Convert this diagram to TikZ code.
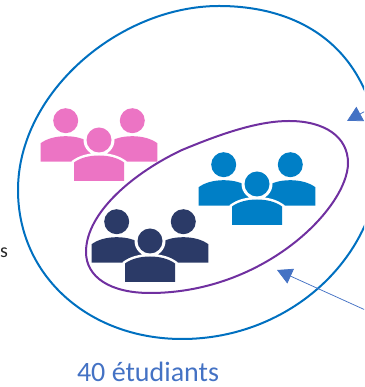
\documentclass[tikz,border=0pt]{standalone}
\usepackage{fontspec}
\setmainfont{Carlito}
\usepackage{tikz}
\usetikzlibrary{positioning,arrows.meta}
\definecolor{ringblue}{HTML}{0070C0}
\definecolor{ringpurple}{HTML}{7030A0}
\definecolor{arrowblue}{HTML}{4472C4}
\definecolor{grouppink}{HTML}{EC74C4}
\definecolor{groupblue}{HTML}{007FC6}
\definecolor{groupnavy}{HTML}{2B3A67}
\definecolor{textgrey}{HTML}{262626}
\newcommand{\bodyshape}{(-25,-41) -- (-25,-22.5) .. controls (-19,-18) and (-10,-15.5) .. (0,-15.5)
	.. controls (10,-15.5) and (19,-18) .. (25,-22.5) -- (25,-41) -- cycle}
\tikzset{
	ring/.style={line width=2pt,fill=none},
	pointer/.style={arrowblue,line width=0.75pt,-{Triangle[length=15pt,width=16pt]}},
	person/.pic={
		\fill \bodyshape;
		\fill (0,0) circle (12.5);
	},
	frontperson/.pic={
		\draw[white,line width=5pt] \bodyshape;
		\fill[fill=white] (0,0) circle (15.5);
		\fill \bodyshape;
		\fill (0,0) circle (12.5);
	},
	group/.pic={
		\pic at (-33.3,19.3) {person};
		\pic at (33.3,19.3) {person};
		\pic at (0,0) {frontperson};
	}
}
\begin{document}
\begin{tikzpicture}[x=1pt,y=1pt]
	\useasboundingbox (0,0) rectangle (364,387);
	\clip (0,0) rectangle (364,387);

	% groups of students
	\pic[fill=grouppink] at (99,247) {group};
	\pic[fill=groupblue] at (257,203) {group};
	\pic[fill=groupnavy] at (150,146) {group};

	% the two rings
	\draw[ring,ringblue] (18,197) .. controls (18,295) and (120,381) .. (219,381)
		.. controls (300,381) and (372,340) .. (380,232)
		.. controls (380,130) and (290,48) .. (182,48)
		.. controls (90,48) and (18,110) .. (18,197) -- cycle;
	\draw[ring,ringpurple] (86,135) .. controls (86,175) and (135,215) .. (182,237)
		.. controls (225,255) and (260,266) .. (289,266)
		.. controls (325,266) and (348,250) .. (348,224)
		.. controls (348,180) and (265,94) .. (150,94)
		.. controls (110,94) and (86,110) .. (86,135) -- cycle;

	% pointers coming from outside the picture
	\coordinate (topstart) at (399,294);
	\coordinate (toptip) at (347,266);
	\coordinate (lowstart) at (394,64);
	\coordinate (lowtip) at (277,117);
	\draw[pointer] (topstart) -- (toptip);
	\draw[pointer] (lowstart) -- (lowtip);

	% texts
	\node[text=arrowblue,font=\fontsize{28}{32}\selectfont,inner sep=0pt] (total) at (148,15.5) {40 étudiants};
	\node[text=textgrey,font=\fontsize{20}{24}\selectfont,inner sep=0pt,anchor=west] (cutword) at (0,134) {s};
\end{tikzpicture}
\end{document}
